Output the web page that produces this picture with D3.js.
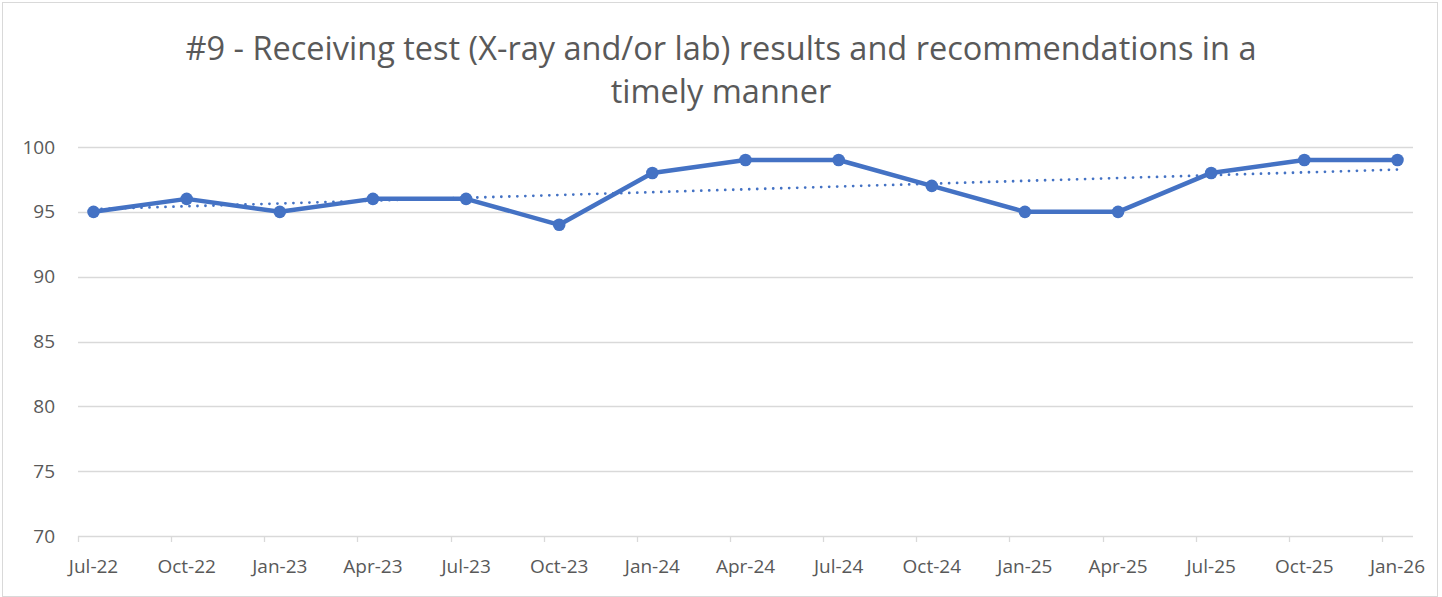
<!DOCTYPE html>
<html>
<head>
<meta charset="utf-8">
<script src="https://cdn.jsdelivr.net/npm/d3@7"></script>
<style>
  body { margin: 0; background: #fff; }
  svg { display: block; font-family: "Open Sans", "Noto Sans", sans-serif; }
</style>
</head>
<body>
<div class="chart"></div>
<script>
// data
let dates  = ["2022-07", "2022-10", "2023-01", "2023-04", "2023-07", "2023-10", "2024-01",
              "2024-04", "2024-07", "2024-10", "2025-01", "2025-04", "2025-07", "2025-10", "2026-01"];
let values = [95, 96, 95, 96, 96, 94, 98, 99, 99, 97, 95, 95, 98, 99, 99];
let yTicks = [70, 75, 80, 85, 90, 95, 100];
let titleLines = ["#9 - Receiving test (X-ray and/or lab) results and recommendations in a",
                  "timely manner"];

let W = 1442, H = 597;
let margin = { top: 147, right: 29, bottom: 61, left: 78 };
let width  = W - margin.left - margin.right;
let height = H - margin.top - margin.bottom;

let parse = d3.timeParse("%Y-%m");
let fmt = d3.timeFormat("%b-%y");

// date axis with month base unit, like the spreadsheet
let months = d3.timeMonth.range(parse(dates[0]), d3.timeMonth.offset(parse(dates[dates.length - 1]), 1));
let monthKey = d3.timeFormat("%Y-%m");

let svg = d3.select(".chart").append("svg")
    .attr("width", W)
    .attr("height", H);

svg.append("rect")
    .attr("x", 2.5).attr("y", 2.5)
    .attr("width", 1435).attr("height", 594)
    .attr("fill", "#fff")
    .attr("stroke", "#d9d9d9");

let g = svg.append("g")
    .attr("transform", `translate(${margin.left}, ${margin.top})`);

let xScale = d3.scaleBand()
    .domain(months.map(monthKey))
    .range([0, width])
    .padding(0);
let cx = d => xScale(d) + xScale.bandwidth() / 2;

let yScale = d3.scaleLinear()
    .domain([70, 100])
    .range([height, 0]);

// gridlines + y labels
g.selectAll(".grid")
    .data(yTicks)
    .enter().append("line")
    .attr("x1", 0).attr("x2", width)
    .attr("y1", d => Math.round(yScale(d)) + 0.5)
    .attr("y2", d => Math.round(yScale(d)) + 0.5)
    .attr("stroke", "#d9d9d9")
    .attr("stroke-width", 1.3);

g.selectAll(".ylab")
    .data(yTicks)
    .enter().append("text")
    .attr("x", -23)
    .attr("y", d => yScale(d))
    .attr("dy", "0.35em")
    .attr("text-anchor", "end")
    .attr("fill", "#595959")
    .style("font-size", "19px")
    .text(d => d);

// x tick marks at start of each labelled month
g.selectAll(".xtick")
    .data(dates)
    .enter().append("line")
    .attr("x1", d => Math.round(xScale(d)) + 0.5)
    .attr("x2", d => Math.round(xScale(d)) + 0.5)
    .attr("y1", height).attr("y2", height + 6)
    .attr("stroke", "#d9d9d9")
    .attr("stroke-width", 1.3);

g.selectAll(".xlab")
    .data(dates)
    .enter().append("text")
    .attr("x", d => cx(d))
    .attr("y", height + 37)
    .attr("text-anchor", "middle")
    .attr("fill", "#595959")
    .style("font-size", "19px")
    .text(d => fmt(parse(d)));

// linear trendline from the data
let n = values.length;
let xm = d3.mean(values, (v, i) => i);
let ym = d3.mean(values);
let slope = d3.sum(values, (v, i) => (i - xm) * (v - ym)) / d3.sum(values, (v, i) => (i - xm) * (i - xm));
let icpt = ym - slope * xm;

g.append("line")
    .attr("x1", cx(dates[0]))
    .attr("x2", cx(dates[n - 1]))
    .attr("y1", yScale(icpt))
    .attr("y2", yScale(icpt + slope * (n - 1)))
    .attr("stroke", "#4472c4")
    .attr("stroke-width", 2.8)
    .attr("stroke-linecap", "round")
    .attr("stroke-dasharray", "0 8");

// main series
let line = d3.line()
    .x((d, i) => cx(dates[i]))
    .y(d => yScale(d));

g.append("path")
    .datum(values)
    .attr("d", line)
    .attr("fill", "none")
    .attr("stroke", "#4472c4")
    .attr("stroke-width", 4.5)
    .attr("stroke-linejoin", "round");

g.selectAll(".dot")
    .data(values)
    .enter().append("circle")
    .attr("cx", (d, i) => cx(dates[i]))
    .attr("cy", d => yScale(d))
    .attr("r", 6.3)
    .attr("fill", "#4472c4");

// title, two lines
let title = svg.append("g");
title.selectAll("text")
    .data(titleLines)
    .enter().append("text")
    .attr("x", 721)
    .attr("y", (d, i) => 60 + i * 43)
    .attr("text-anchor", "middle")
    .attr("fill", "#595959")
    .style("font-size", "28px")
    .text(d => d);

// squeeze the long line to the width it has in the original
let t0 = title.select("text").node();
let k = 1071 / t0.getComputedTextLength();
title.selectAll("text").style("font-size", (28 * k).toFixed(2) + "px");
</script>
</body>
</html>
